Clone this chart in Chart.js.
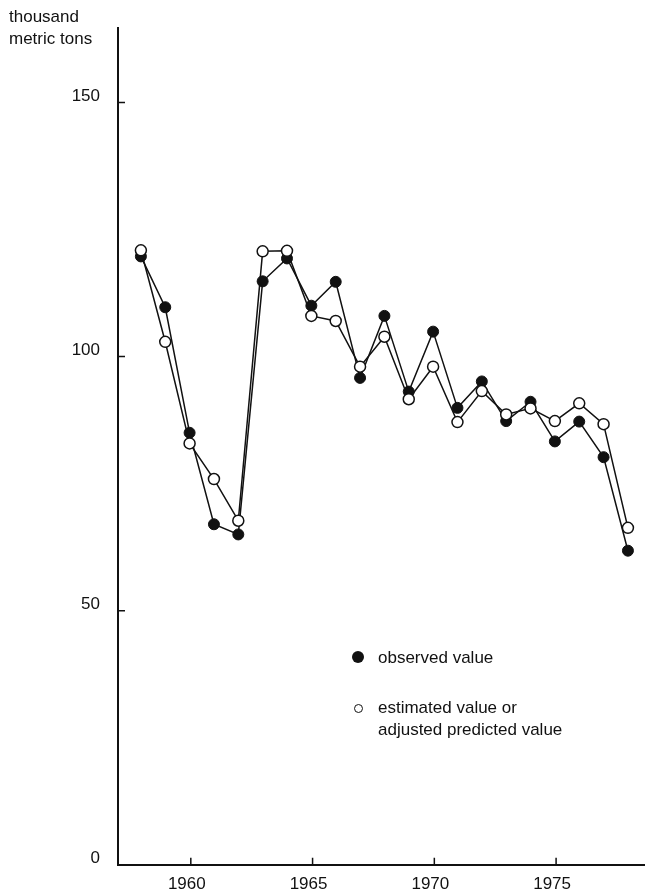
<!DOCTYPE html>
<html>
<head>
<meta charset="utf-8">
<script src="https://cdn.jsdelivr.net/npm/chart.js@4.4.0/dist/chart.umd.min.js"></script>
<style>
  body { margin: 0; background: #fff; }
  #wrap { position: relative; width: 651px; height: 893px; font-family: "Liberation Sans", Arial, sans-serif; color: #111; }
  #myChart { position: absolute; left: 0; top: 0; }
  .txt { position: absolute; font-size: 17px; line-height: 22px; white-space: nowrap; }
  .dot { position: absolute; border-radius: 50%; box-sizing: border-box; }
</style>
</head>
<body>
<div id="wrap">
  <canvas id="myChart" width="651" height="893"></canvas>
  <div class="txt" style="left:9px; top:6px;">thousand<br>metric tons</div>
  <div class="dot" style="left:352px; top:651px; width:12px; height:12px; background:#111;"></div>
  <div class="txt" style="left:378px; top:647px;">observed value</div>
  <div class="dot" style="left:354px; top:704px; width:9px; height:9px; border:1.5px solid #111;"></div>
  <div class="txt" style="left:378px; top:697px;">estimated value or<br>adjusted predicted value</div>
</div>
<script>
const years = [1957, 1958, 1959, 1960, 1961, 1962, 1963, 1964, 1965, 1966, 1967,
  1968, 1969, 1970, 1971, 1972, 1973, 1974, 1975, 1976, 1977];
const observed = [119.7, 109.7, 85, 67, 65, 114.8, 119.3, 110, 114.7, 95.8, 108,
  93.1, 104.9, 89.9, 95.1, 87.3, 91.1, 83.3, 87.2, 80.2, 61.8];
const estimated = [120.9, 102.9, 82.9, 75.9, 67.7, 120.7, 120.8, 108, 107, 98, 103.9,
  91.6, 98, 87.1, 93.2, 88.6, 89.8, 87.3, 90.8, 86.7, 66.3];
const xTicks = [1960, 1965, 1970, 1975];
const yTicks = [0, 50, 100, 150];

function toPoints(values) {
  return years.map((year, i) => ({ x: year, y: values[i] }));
}

// small tick marks pointing into the plot
const innerTicks = {
  id: "innerTicks",
  afterDraw(chart) {
    const ctx = chart.ctx;
    const area = chart.chartArea;
    ctx.save();
    ctx.strokeStyle = "#111";
    ctx.lineWidth = 1.5;
    ctx.beginPath();
    yTicks.forEach((v) => {
      if (v === 0) return;
      const y = chart.scales.y.getPixelForValue(v);
      ctx.moveTo(area.left, y);
      ctx.lineTo(area.left + 7, y);
    });
    xTicks.forEach((v) => {
      const x = chart.scales.years.getPixelForValue(v);
      ctx.moveTo(x, area.bottom);
      ctx.lineTo(x, area.bottom - 7);
    });
    ctx.stroke();
    ctx.restore();
  },
};

const tickFont = { family: "'Liberation Sans', Arial, sans-serif", size: 17 };

const data = {
  datasets: [
    {
      label: "estimated value or adjusted predicted value",
      data: toPoints(estimated),
      borderColor: "#111",
      borderWidth: 1.5,
      pointRadius: 5.5,
      pointBackgroundColor: "#fff",
      pointBorderColor: "#111",
      pointBorderWidth: 1.5,
      order: 1,
    },
    {
      label: "observed value",
      data: toPoints(observed),
      borderColor: "#111",
      borderWidth: 1.5,
      pointRadius: 5.5,
      pointBackgroundColor: "#111",
      pointBorderColor: "#111",
      pointBorderWidth: 1,
      order: 2,
    },
  ],
};

const config = {
  type: "line",
  data: data,
  options: {
    responsive: false,
    animation: false,
    devicePixelRatio: 1,
    clip: false,
    layout: { padding: { top: 28, right: 6, left: 0, bottom: 0 } },
    plugins: { legend: { display: false }, tooltip: { enabled: false } },
    scales: {
      // axis the points are plotted on
      x: {
        type: "linear",
        display: false,
        min: 1956.06,
        max: 1977.66,
      },
      // the printed year scale sits about a year to the left of the points
      years: {
        type: "linear",
        position: "bottom",
        min: 1957.01,
        max: 1978.61,
        afterFit: (scale) => { scale.height = 25; },
        afterBuildTicks: (scale) => { scale.ticks = xTicks.map((v) => ({ value: v })); },
        grid: { display: false, drawTicks: false },
        border: { display: true, color: "#111", width: 2 },
        ticks: {
          color: "#111",
          font: tickFont,
          padding: 9,
          labelOffset: -4,
          callback: (v) => String(v),
        },
      },
      y: {
        min: 0,
        max: 164.6,
        afterFit: (scale) => { scale.width = 118; },
        afterBuildTicks: (scale) => { scale.ticks = yTicks.map((v) => ({ value: v })); },
        grid: { display: false, drawTicks: false },
        border: { display: true, color: "#111", width: 2 },
        ticks: {
          color: "#111",
          font: tickFont,
          padding: 18,
          labelOffset: -6,
          callback: (v) => String(v),
        },
      },
    },
  },
  plugins: [innerTicks],
};

new Chart(document.getElementById("myChart"), config);
</script>
</body>
</html>
